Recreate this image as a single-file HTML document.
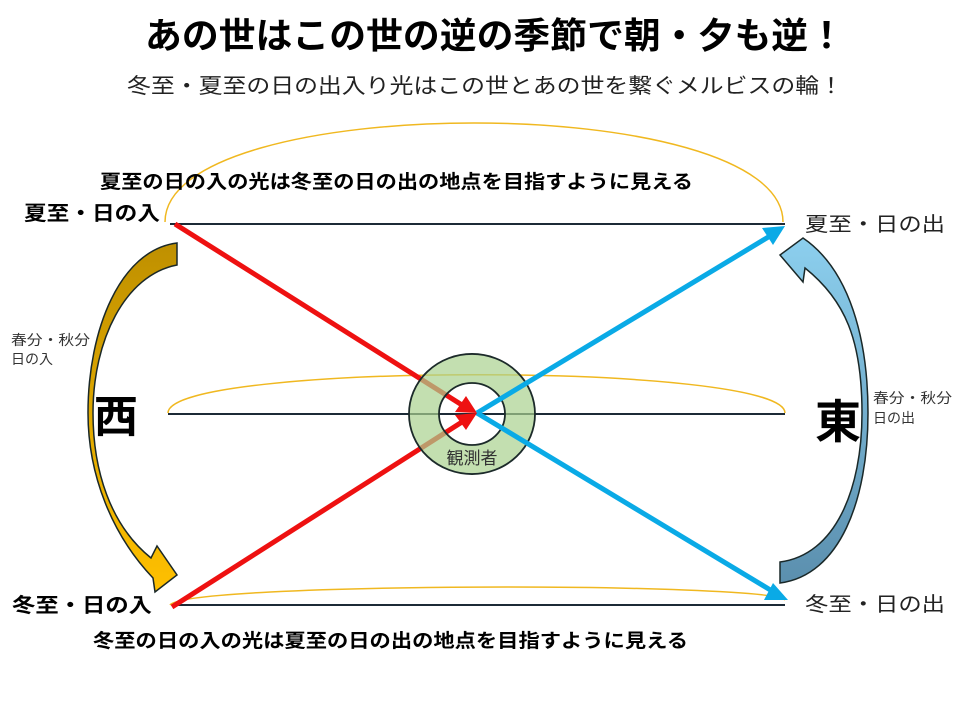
<!DOCTYPE html>
<html><head><meta charset="utf-8">
<style>
html,body{margin:0;padding:0;background:#fff;}
svg{display:block;font-family:"Liberation Sans","Noto Sans CJK JP",sans-serif;}
</style></head>
<body>
<svg width="960" height="720" viewBox="0 0 960 720" xmlns="http://www.w3.org/2000/svg">
<defs>
<linearGradient id="gold" x1="0" y1="0" x2="0" y2="1">
<stop offset="0" stop-color="#BF9000"/><stop offset="1" stop-color="#FFC000"/>
</linearGradient>
<linearGradient id="blue" x1="0" y1="0" x2="0" y2="1">
<stop offset="0" stop-color="#8ccfee"/><stop offset="1" stop-color="#5b8fae"/>
</linearGradient>
</defs>

<text x="495" y="48" text-anchor="middle" font-size="36" font-weight="bold" textLength="700" lengthAdjust="spacingAndGlyphs">あの世はこの世の逆の季節で朝・夕も逆！</text>
<text x="485" y="93" text-anchor="middle" font-size="21" fill="#222" textLength="716" lengthAdjust="spacingAndGlyphs">冬至・夏至の日の出入り光はこの世とあの世を繋ぐメルビスの輪！</text>

<path d="M165,222 C165,90 783,90 783,222" fill="none" stroke="#f0b820" stroke-width="1.5"/>
<path d="M168,413 C168,362 785,362 785,413" fill="none" stroke="#f0b820" stroke-width="1.5"/>
<path d="M170,605 C185,582 770,582 785,600" fill="none" stroke="#f0b820" stroke-width="1.5"/>

<line x1="170" y1="224" x2="785" y2="224" stroke="#1c2a36" stroke-width="2"/>
<line x1="168" y1="414" x2="785" y2="414" stroke="#1c2a36" stroke-width="2"/>
<line x1="172" y1="605" x2="785" y2="605" stroke="#1c2a36" stroke-width="2"/>

<line x1="175" y1="224" x2="462" y2="405" stroke="#ee1111" stroke-width="5"/>
<line x1="172" y1="607" x2="462" y2="422" stroke="#ee1111" stroke-width="5"/>

<path d="M409,414 a63,60 0 1,0 126,0 a63,60 0 1,0 -126,0 Z M439,414 a33,31 0 1,1 66,0 a33,31 0 1,1 -66,0 Z" fill="#a9d18e" fill-opacity="0.7" fill-rule="evenodd" stroke="#1c2a2a" stroke-width="1.8"/>
<text x="472" y="464" text-anchor="middle" font-size="17" fill="#333">観測者</text>

<polygon points="477,413 455,412 466,396" fill="#ee1111"/>
<polygon points="477,413 466,430 455,415" fill="#ee1111"/>

<line x1="477" y1="413" x2="770" y2="236" stroke="#0aaae6" stroke-width="5"/>
<line x1="477" y1="413" x2="772" y2="591" stroke="#0aaae6" stroke-width="5"/>
<polygon points="785,226 762,228 773,245" fill="#0aaae6"/>
<polygon points="788,600 773,583 764,600" fill="#0aaae6"/>

<path d="M177,243 C120,250 88,330 88,413 C88,475 112,535 153,578 L155,592 L177,575 L157,546 L151,558 C110,525 93,470 93,413 C93,340 125,275 177,265 Z" fill="url(#gold)" stroke="#1a2828" stroke-width="1.5"/>
<path d="M780,562 C835,555 862,490 862,413 C862,340 845,300 805,268 L803,282 L780,255 L803,238 C850,270 868,340 868,413 C868,500 840,575 780,583 Z" fill="url(#blue)" stroke="#1a2828" stroke-width="1.5"/>

<text x="100" y="188" font-size="19" font-weight="bold" textLength="593" lengthAdjust="spacingAndGlyphs">夏至の日の入の光は冬至の日の出の地点を目指すように見える</text>
<text x="93" y="647" font-size="19" font-weight="bold" textLength="595" lengthAdjust="spacingAndGlyphs">冬至の日の入の光は夏至の日の出の地点を目指すように見える</text>
<text x="24" y="220" font-size="20" font-weight="bold" textLength="136" lengthAdjust="spacingAndGlyphs">夏至・日の入</text>
<text x="12" y="612" font-size="20" font-weight="bold" textLength="140" lengthAdjust="spacingAndGlyphs">冬至・日の入</text>
<text x="805" y="231" font-size="20" fill="#222" textLength="140" lengthAdjust="spacingAndGlyphs">夏至・日の出</text>
<text x="805" y="611" font-size="20" fill="#222" textLength="140" lengthAdjust="spacingAndGlyphs">冬至・日の出</text>
<text x="11" y="345" font-size="14" fill="#333" textLength="79" lengthAdjust="spacingAndGlyphs">春分・秋分</text>
<text x="11" y="364" font-size="14" fill="#333">日の入</text>
<text x="873" y="403" font-size="14" fill="#333" textLength="79" lengthAdjust="spacingAndGlyphs">春分・秋分</text>
<text x="873" y="423" font-size="14" fill="#333">日の出</text>
<text x="94" y="432" font-size="44" font-weight="bold">西</text>
<text x="815" y="438" font-size="46" font-weight="bold">東</text>
</svg>
</body></html>
